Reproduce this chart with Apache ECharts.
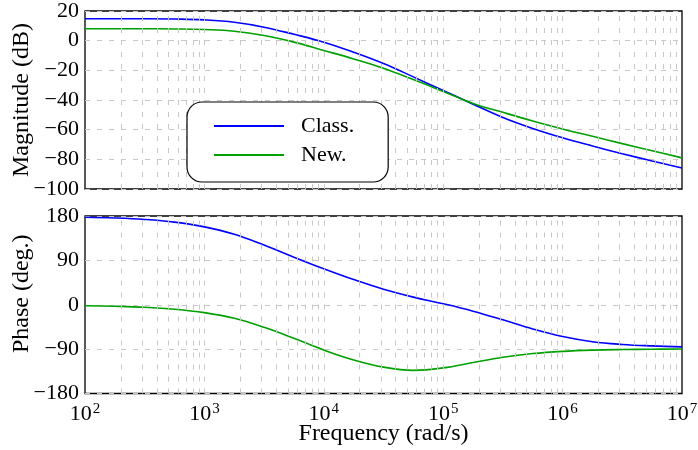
<!DOCTYPE html>
<html>
<head>
<meta charset="utf-8">
<script src="https://cdn.jsdelivr.net/npm/echarts@6/dist/echarts.min.js"></script>
<style>
  html, body { margin: 0; padding: 0; background: #fff; }
  #chart { width: 698px; height: 450px; }
</style>
</head>
<body>
<div id="chart"></div>
<script>
// Frequency samples (rad/s), quarter-decade steps from 1e2 to 1e7
const freq = [100, 178, 316, 562, 1e3, 1780, 3160, 5620, 1e4, 17800, 31600, 56200,
              1e5, 178000, 316000, 562000, 1e6, 1780000, 3160000, 5620000, 1e7];

// Magnitude (dB)
const magClass = [14.8, 14.8, 14.8, 14.6, 14.0, 12.4, 9.1, 4.3, -1.0, -7.8, -15.4, -24.4,
                  -33.6, -42.8, -51.8, -59.2, -65.5, -71.0, -76.2, -81.1, -85.8];
const magNew   = [8.0, 8.0, 8.0, 7.9, 7.5, 6.4, 3.5, -1.0, -6.6, -12.3, -18.6, -26.2,
                  -34.2, -42.3, -48.3, -54.1, -59.5, -64.5, -69.4, -74.2, -79.0];

// Phase (deg.)
const phaseClass = [177.5, 176, 173, 167.5, 158, 143, 121, 96.5, 73, 51, 31.5, 15.5,
                    2, -13, -30.5, -49, -64.5, -75, -80.5, -83.5, -85.5];
const phaseNew   = [-2, -3, -5, -9, -16, -27.5, -45.8, -68, -91.8, -112, -126.5, -133,
                    -128, -117, -106.5, -99, -94.5, -92, -90.8, -90.2, -89.8];

const seriesNames = ['Class.', 'New.'];
const magTicks = { min: -100, max: 20, interval: 20 };
const phaseTicks = { min: -180, max: 180, interval: 90 };
const freqRange = { min: 1e2, max: 1e7 };

const FONT = '"Liberation Serif", "Times New Roman", serif';
const BLUE = '#0000ff';
const GREEN = '#00a000';
const GRID_LINE = { color: '#c8c8c8', width: 1, type: [5, 7] };

// vertical grid lines at 1..9 x 10^d inside the frequency range
const vGrid = [];
for (let d = 2; d <= 6; d++) {
  for (let k = 1; k <= 9; k++) {
    const v = k * Math.pow(10, d);
    if (v > freqRange.min && v < freqRange.max) vGrid.push({ xAxis: v });
  }
}

const zip = (xs, ys) => xs.map((x, i) => [x, ys[i]]);
const minus = v => String(v).replace('-', '\u2212');

function xAxis(gridIndex, showLabels, name) {
  return {
    type: 'log', logBase: 10, gridIndex,
    min: freqRange.min, max: freqRange.max, splitNumber: 5,
    axisLine: { show: false }, axisTick: { show: false },
    splitLine: { show: false }, minorTick: { show: false },
    axisLabel: {
      show: showLabels, margin: 8,
      formatter: v => '{b|10}{s|' + Math.round(Math.log10(v)) + '}',
      rich: {
        b: { fontFamily: FONT, fontSize: 22, color: '#000', lineHeight: 24, verticalAlign: 'bottom' },
        s: { fontFamily: FONT, fontSize: 15, color: '#000', lineHeight: 24, verticalAlign: 'top', padding: [0, 0, 0, 1] }
      }
    },
    name: name || '', nameLocation: 'middle', nameGap: 28, nameMoveOverlap: false,
    nameTextStyle: { fontFamily: FONT, fontSize: 24, color: '#000' }
  };
}

function yAxis(gridIndex, ticks, name, namePad) {
  return {
    type: 'value', gridIndex,
    min: ticks.min, max: ticks.max, interval: ticks.interval,
    axisLine: { show: false }, axisTick: { show: false },
    splitLine: { show: true, lineStyle: GRID_LINE },
    axisLabel: { margin: 6, formatter: minus, fontFamily: FONT, fontSize: 22, color: '#000' },
    name, nameLocation: 'middle', nameGap: 51, nameMoveOverlap: false,
    nameTextStyle: { fontFamily: FONT, fontSize: 24, color: '#000', padding: namePad }
  };
}

function gridLines(idx) {
  return {
    name: 'grid' + idx, type: 'line', xAxisIndex: idx, yAxisIndex: idx,
    data: [], silent: true, z: 1,
    markLine: { silent: true, symbol: 'none', label: { show: false },
                lineStyle: GRID_LINE, data: vGrid, animation: false }
  };
}

function curve(name, idx, values, color) {
  return {
    name, type: 'line', xAxisIndex: idx, yAxisIndex: idx,
    data: zip(freq, values), symbol: 'none', showSymbol: false, smooth: 0.4, z: 3,
    lineStyle: { color, width: 1.6 }, itemStyle: { color }
  };
}

const frame = { left: 85, right: 16, show: true, borderColor: '#000', borderWidth: 1.3,
                backgroundColor: 'transparent', containLabel: false, outerBoundsMode: 'none' };

const chart = echarts.init(document.getElementById('chart'), null, { renderer: 'canvas' });
chart.setOption({
  animation: false,
  backgroundColor: '#fff',
  grid: [
    Object.assign({ top: 11, height: 178 }, frame),
    Object.assign({ top: 216, height: 177.5 }, frame)
  ],
  xAxis: [xAxis(0, false), xAxis(1, true, 'Frequency (rad/s)')],
  yAxis: [yAxis(0, magTicks, 'Magnitude (dB)', 0), yAxis(1, phaseTicks, 'Phase (deg.)', [0, 0, 0, 22])],
  legend: {
    data: seriesNames.map(n => ({ name: n, icon: 'rect' })),
    orient: 'vertical', left: 187, top: 102, z: 10,
    backgroundColor: '#fff', borderColor: '#000', borderWidth: 1.2, borderRadius: 15,
    padding: [13, 34, 16, 27], itemGap: 7, itemWidth: 70, itemHeight: 2,
    itemStyle: { borderWidth: 0 },
    textStyle: { fontFamily: FONT, fontSize: 22, color: '#000', lineHeight: 22, padding: [0, 0, 0, 12] }
  },
  series: [
    gridLines(0), gridLines(1),
    curve(seriesNames[0], 0, magClass, BLUE),
    curve(seriesNames[1], 0, magNew, GREEN),
    curve(seriesNames[0], 1, phaseClass, BLUE),
    curve(seriesNames[1], 1, phaseNew, GREEN)
  ]
});
</script>
</body>
</html>
